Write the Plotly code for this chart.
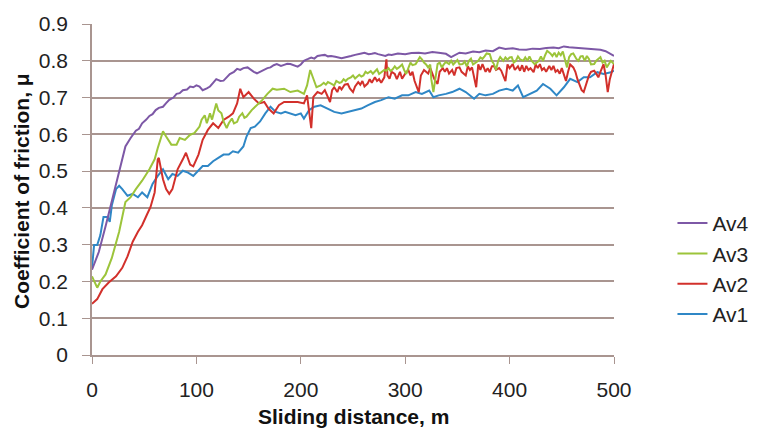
import plotly.graph_objects as go

# Sliding distance (m) and coefficient of friction for each series
av4_x = [0, 6.5, 13, 19, 26, 29, 32, 37, 42, 45, 48, 52, 55, 58, 61, 64, 68, 71, 74, 78, 81, 84, 87, 91, 94, 97, 100, 103, 106, 110, 113, 116, 119, 123, 126, 129, 132, 136, 139, 142, 145, 149, 152, 155, 158, 162, 165, 168, 171, 174, 177, 181, 184, 187, 190, 194, 197, 200, 203, 207, 210, 213, 216, 220, 223, 226, 229, 233, 236, 239, 242, 245, 248, 252, 255, 258, 261, 265, 268, 271, 274, 278, 281, 284, 287, 293, 300, 306, 313, 319, 326, 332, 339, 344, 348, 352, 358, 365, 371, 377, 384, 390, 396, 403, 409, 416, 422, 429, 435, 442, 447, 452, 457, 461, 467, 474, 480, 487, 492, 497, 500]
av4_y = [0.232, 0.28, 0.35, 0.42, 0.50, 0.53, 0.567, 0.59, 0.61, 0.615, 0.63, 0.64, 0.65, 0.655, 0.666, 0.672, 0.675, 0.685, 0.694, 0.70, 0.71, 0.712, 0.72, 0.722, 0.73, 0.728, 0.733, 0.73, 0.72, 0.725, 0.73, 0.74, 0.75, 0.745, 0.746, 0.755, 0.764, 0.77, 0.778, 0.775, 0.78, 0.782, 0.775, 0.77, 0.766, 0.772, 0.775, 0.78, 0.782, 0.788, 0.791, 0.786, 0.789, 0.792, 0.791, 0.788, 0.784, 0.79, 0.80, 0.805, 0.809, 0.806, 0.813, 0.815, 0.816, 0.812, 0.813, 0.811, 0.81, 0.807, 0.809, 0.812, 0.813, 0.816, 0.819, 0.82, 0.822, 0.818, 0.819, 0.821, 0.818, 0.815, 0.813, 0.817, 0.816, 0.82, 0.818, 0.821, 0.822, 0.82, 0.824, 0.822, 0.819, 0.81, 0.816, 0.822, 0.82, 0.825, 0.823, 0.828, 0.826, 0.836, 0.832, 0.834, 0.831, 0.83, 0.833, 0.832, 0.835, 0.836, 0.834, 0.839, 0.837, 0.836, 0.833, 0.832, 0.83, 0.83, 0.826, 0.818, 0.813]

av3_x = [0, 3, 5, 8, 13, 19, 26, 32, 37, 42, 48, 55, 60, 63, 68, 71, 76, 81, 84, 89, 94, 98, 103, 105, 108, 110, 113, 115, 117, 119, 121, 124, 126, 129, 131, 134, 136, 139, 141, 144, 146, 148, 153, 158, 163, 168, 173, 177, 184, 190, 197, 203, 206, 209, 211, 215, 219, 222, 224, 226, 229, 232, 234, 237, 239, 241, 243, 245, 248, 250, 252, 254, 256, 258, 260, 262, 264, 267, 269, 271, 273, 275, 277, 280, 282, 284, 286, 288, 290, 292, 294, 297, 299, 301, 303, 305, 307, 310, 312, 314, 316, 318, 320, 322, 324, 325, 327, 329, 331, 333, 335, 337, 339, 342, 344, 346, 348, 350, 352, 355, 357, 359, 361, 363, 365, 368, 370, 372, 374, 376, 378, 381, 383, 385, 387, 389, 391, 394, 396, 398, 400, 402, 404, 406, 408, 410, 413, 415, 417, 419, 421, 424, 426, 428, 430, 432, 434, 436, 439, 441, 443, 445, 447, 449, 451, 453, 455, 457, 459, 461, 464, 466, 468, 470, 472, 474, 476, 478, 481, 483, 485, 487, 489, 491, 493, 495, 497, 500]
av3_y = [0.214, 0.197, 0.183, 0.20, 0.219, 0.264, 0.335, 0.416, 0.429, 0.451, 0.474, 0.505, 0.532, 0.563, 0.608, 0.594, 0.572, 0.572, 0.59, 0.585, 0.599, 0.603, 0.621, 0.64, 0.652, 0.63, 0.657, 0.64, 0.665, 0.684, 0.665, 0.657, 0.635, 0.617, 0.63, 0.643, 0.63, 0.634, 0.648, 0.657, 0.645, 0.648, 0.666, 0.679, 0.693, 0.71, 0.724, 0.721, 0.724, 0.715, 0.719, 0.71, 0.733, 0.775, 0.76, 0.728, 0.733, 0.74, 0.735, 0.742, 0.738, 0.733, 0.745, 0.74, 0.742, 0.75, 0.745, 0.751, 0.755, 0.76, 0.752, 0.757, 0.762, 0.757, 0.76, 0.77, 0.766, 0.772, 0.765, 0.771, 0.777, 0.764, 0.768, 0.775, 0.773, 0.78, 0.772, 0.777, 0.785, 0.778, 0.782, 0.79, 0.775, 0.764, 0.78, 0.795, 0.788, 0.791, 0.80, 0.81, 0.804, 0.795, 0.79, 0.782, 0.79, 0.75, 0.715, 0.76, 0.791, 0.795, 0.782, 0.79, 0.797, 0.791, 0.80, 0.79, 0.795, 0.802, 0.79, 0.791, 0.798, 0.785, 0.80, 0.806, 0.79, 0.795, 0.80, 0.809, 0.805, 0.812, 0.82, 0.818, 0.80, 0.791, 0.775, 0.80, 0.81, 0.80, 0.809, 0.803, 0.809, 0.81, 0.795, 0.80, 0.812, 0.804, 0.80, 0.809, 0.80, 0.812, 0.80, 0.791, 0.795, 0.80, 0.812, 0.80, 0.815, 0.827, 0.82, 0.813, 0.822, 0.81, 0.822, 0.815, 0.825, 0.80, 0.782, 0.81, 0.818, 0.82, 0.805, 0.80, 0.812, 0.813, 0.80, 0.813, 0.805, 0.79, 0.791, 0.80, 0.804, 0.81, 0.795, 0.80, 0.782, 0.79, 0.80, 0.791]

av2_x = [0, 5, 10, 16, 23, 29, 34, 39, 44, 48, 53, 56, 60, 63, 64, 68, 71, 74, 77, 82, 87, 90, 94, 97, 102, 106, 111, 116, 121, 126, 131, 135, 139, 142, 145, 150, 155, 160, 165, 169, 174, 179, 184, 190, 197, 203, 206, 210, 212, 216, 220, 223, 226, 228, 230, 232, 235, 237, 239, 242, 245, 247, 250, 252, 255, 257, 259, 261, 264, 266, 268, 271, 273, 275, 277, 280, 282, 283, 285, 287, 290, 292, 295, 297, 300, 303, 305, 307, 309, 311, 313, 315, 318, 320, 322, 324, 326, 328, 331, 333, 336, 338, 340, 342, 345, 347, 349, 352, 354, 356, 358, 360, 362, 364, 366, 368, 370, 372, 374, 377, 379, 381, 383, 385, 387, 390, 392, 394, 396, 398, 400, 403, 405, 408, 410, 412, 414, 416, 418, 420, 423, 425, 427, 429, 431, 433, 435, 438, 440, 442, 444, 446, 448, 450, 452, 454, 456, 458, 461, 463, 465, 467, 469, 471, 473, 476, 478, 481, 483, 485, 487, 489, 490, 492, 494, 496, 498, 500]
av2_y = [0.139, 0.152, 0.179, 0.197, 0.214, 0.237, 0.268, 0.308, 0.335, 0.353, 0.384, 0.402, 0.442, 0.532, 0.536, 0.478, 0.451, 0.438, 0.451, 0.505, 0.532, 0.55, 0.518, 0.513, 0.545, 0.585, 0.612, 0.63, 0.617, 0.639, 0.648, 0.657, 0.684, 0.724, 0.701, 0.715, 0.697, 0.684, 0.688, 0.67, 0.657, 0.679, 0.688, 0.688, 0.688, 0.684, 0.706, 0.617, 0.702, 0.715, 0.71, 0.72, 0.70, 0.688, 0.72, 0.728, 0.715, 0.73, 0.722, 0.735, 0.737, 0.725, 0.715, 0.73, 0.742, 0.735, 0.745, 0.73, 0.738, 0.75, 0.74, 0.755, 0.745, 0.75, 0.74, 0.755, 0.804, 0.76, 0.751, 0.77, 0.764, 0.75, 0.77, 0.751, 0.765, 0.775, 0.76, 0.77, 0.745, 0.73, 0.715, 0.76, 0.775, 0.77, 0.765, 0.78, 0.765, 0.75, 0.737, 0.77, 0.78, 0.77, 0.78, 0.765, 0.775, 0.76, 0.78, 0.782, 0.77, 0.765, 0.76, 0.785, 0.775, 0.782, 0.75, 0.728, 0.79, 0.775, 0.791, 0.77, 0.78, 0.769, 0.785, 0.786, 0.775, 0.78, 0.773, 0.76, 0.745, 0.79, 0.78, 0.791, 0.775, 0.785, 0.773, 0.788, 0.77, 0.786, 0.775, 0.78, 0.769, 0.79, 0.78, 0.791, 0.775, 0.78, 0.77, 0.786, 0.775, 0.786, 0.77, 0.775, 0.765, 0.78, 0.76, 0.745, 0.77, 0.79, 0.782, 0.77, 0.75, 0.733, 0.72, 0.715, 0.735, 0.76, 0.77, 0.773, 0.765, 0.755, 0.77, 0.785, 0.791, 0.76, 0.715, 0.75, 0.77, 0.791]

av1_x = [0, 2, 5, 8, 11, 15, 17, 19, 23, 26, 29, 34, 39, 44, 48, 53, 58, 63, 68, 73, 77, 82, 87, 92, 97, 102, 106, 111, 116, 121, 126, 131, 135, 140, 145, 148, 152, 156, 161, 166, 171, 176, 181, 185, 190, 195, 200, 203, 208, 213, 219, 226, 232, 239, 245, 252, 258, 264, 271, 277, 284, 290, 297, 303, 310, 316, 323, 327, 332, 339, 345, 352, 358, 366, 371, 377, 384, 390, 397, 403, 408, 413, 419, 426, 432, 439, 445, 452, 458, 465, 471, 477, 484, 490, 497, 500]
av1_y = [0.237, 0.299, 0.299, 0.326, 0.375, 0.375, 0.362, 0.407, 0.451, 0.46, 0.451, 0.433, 0.438, 0.429, 0.442, 0.429, 0.465, 0.487, 0.505, 0.478, 0.492, 0.487, 0.501, 0.496, 0.487, 0.501, 0.514, 0.514, 0.527, 0.536, 0.545, 0.545, 0.554, 0.55, 0.567, 0.594, 0.617, 0.621, 0.635, 0.657, 0.675, 0.661, 0.657, 0.661, 0.657, 0.652, 0.657, 0.643, 0.666, 0.675, 0.679, 0.67, 0.661, 0.657, 0.661, 0.666, 0.67, 0.679, 0.688, 0.693, 0.701, 0.697, 0.706, 0.706, 0.715, 0.71, 0.719, 0.701, 0.706, 0.71, 0.715, 0.724, 0.715, 0.697, 0.71, 0.706, 0.71, 0.719, 0.724, 0.719, 0.733, 0.701, 0.71, 0.719, 0.737, 0.724, 0.706, 0.728, 0.751, 0.742, 0.755, 0.755, 0.769, 0.764, 0.769, 0.773]

x_ticks = [0, 100, 200, 300, 400, 500]
y_ticks = [0, 0.1, 0.2, 0.3, 0.4, 0.5, 0.6, 0.7, 0.8, 0.9]
y_tick_text = ["0", "0.1", "0.2", "0.3", "0.4", "0.5", "0.6", "0.7", "0.8", "0.9"]

series = [
    ("Av1", av1_x, av1_y, "#2f87c6"),
    ("Av2", av2_x, av2_y, "#d2302b"),
    ("Av3", av3_x, av3_y, "#9cc43a"),
    ("Av4", av4_x, av4_y, "#7d58a6"),
]

FONT = "Liberation Sans, Arial, sans-serif"
GRID = "#a99590"

fig = go.Figure()
for name, xs, ys, col in series:
    fig.add_trace(go.Scatter(x=xs, y=ys, mode="lines", name=name,
                             line=dict(color=col, width=2)))

fig.update_layout(
    width=767, height=430,
    margin=dict(l=92, r=148, t=19, b=75),
    paper_bgcolor="white", plot_bgcolor="white",
    font=dict(family=FONT, size=21, color="#222222"),
    showlegend=True,
    legend=dict(traceorder="reversed", x=1.112, xanchor="left", y=0.26, yanchor="middle",
                font=dict(size=21, color="#222222"), bgcolor="rgba(0,0,0,0)",
                itemwidth=30, tracegroupgap=0),
    xaxis=dict(range=[0, 500], tickvals=x_ticks, ticks="outside", ticklen=7, tickcolor=GRID,
               showgrid=False, showline=True, linecolor=GRID, linewidth=1.5, zeroline=False,
               tickfont=dict(size=21), ticklabelstandoff=8),
    yaxis=dict(range=[0, 0.9], tickvals=y_ticks, ticktext=y_tick_text, ticks="outside",
               ticklen=8, tickcolor=GRID, showgrid=True, gridcolor=GRID, gridwidth=1.5,
               showline=True, linecolor=GRID, linewidth=1.5, zeroline=False,
               tickfont=dict(size=21), ticklabelstandoff=10),
    annotations=[
        dict(text="<b>Sliding distance, m</b>", xref="paper", yref="paper", x=0.5, y=-0.185,
             showarrow=False, xanchor="center", yanchor="middle",
             font=dict(size=21, color="#111111", family=FONT)),
        dict(text="<b>Coefficient of friction, μ</b>", xref="paper", yref="paper", x=-0.135, y=0.494,
             showarrow=False, textangle=-90, xanchor="center", yanchor="middle",
             font=dict(size=21, color="#111111", family=FONT)),
    ],
)

fig.write_html("out.html")
